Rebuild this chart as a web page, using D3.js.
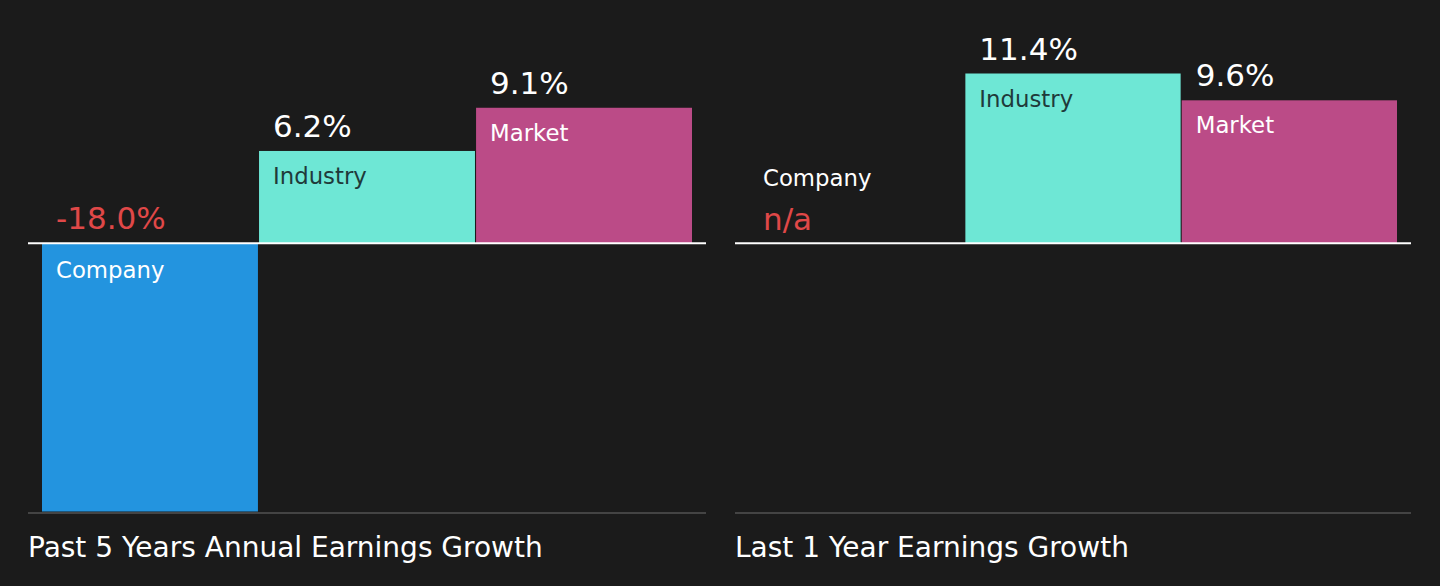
<!DOCTYPE html>
<html lang="en">
<head>
  <meta charset="UTF-8">
  <title>Earnings Growth</title>
  <script src="https://d3js.org/d3.v7.min.js"></script>
  <style>
    html, body { margin: 0; padding: 0; background: #1b1b1b; }
    svg { display: block; font-family: "DejaVu Sans", sans-serif; }
  </style>
</head>
<body>
  <svg width="1440" height="586"></svg>

  <script>
    const width = 1440;
    const height = 586;

    // data
    const categories = ["Company", "Industry", "Market"];
    const pastFiveYears = [-18.0, 6.2, 9.1];
    const lastOneYear = [null, 11.4, 9.6];
    const panelTitles = ["Past 5 Years Annual Earnings Growth", "Last 1 Year Earnings Growth"];

    const colors = { Company: "#2394df", Industry: "#6ee7d5", Market: "#bb4b87" };
    const labelColors = { Company: "#ffffff", Industry: "#1f3a3a", Market: "#ffffff" };
    const negColor = "#e04848";

    const svg = d3.select("svg")
        .attr("width", width)
        .attr("height", height);

    // both panels share one value scale
    const y = d3.scaleLinear()
        .domain([-18, 11.4])
        .range([511.5, 73.5]);

    const panels = [
      { x0: 28, x1: 706, values: pastFiveYears, title: panelTitles[0] },
      { x0: 735, x1: 1411, values: lastOneYear, title: panelTitles[1] }
    ];

    const fmt = v => v.toFixed(1) + "%";

    panels.forEach(p => {
      const g = svg.append("g");

      const x = d3.scaleBand()
          .domain(categories)
          .range([p.x0 + 14, p.x1 - 14])
          .paddingInner(0.005);

      const rows = categories.map((c, i) => ({ cat: c, value: p.values[i] }));

      // bars
      g.selectAll("rect")
          .data(rows.filter(d => d.value != null))
          .enter().append("rect")
          .attr("x", d => x(d.cat))
          .attr("width", x.bandwidth())
          .attr("y", d => y(Math.max(0, d.value)))
          .attr("height", d => Math.abs(y(d.value) - y(0)))
          .attr("fill", d => colors[d.cat]);

      // zero line
      g.append("line")
          .attr("x1", p.x0).attr("x2", p.x1)
          .attr("y1", y(0)).attr("y2", y(0))
          .attr("stroke", "#ffffff")
          .attr("stroke-width", 2);

      // bottom line
      g.append("line")
          .attr("x1", p.x0).attr("x2", p.x1)
          .attr("y1", 513).attr("y2", 513)
          .attr("stroke", "#444444")
          .attr("stroke-width", 2);

      // value labels
      g.selectAll(".value")
          .data(rows)
          .enter().append("text")
          .attr("class", "value")
          .attr("x", d => x(d.cat) + 14)
          .attr("y", d => d.value == null ? y(0) - 13 : y(Math.max(0, d.value)) - 14)
          .attr("font-size", 31)
          .attr("fill", d => (d.value == null || d.value < 0) ? negColor : "#ffffff")
          .text(d => d.value == null ? "n/a" : fmt(d.value));

      // category labels
      g.selectAll(".cat")
          .data(rows)
          .enter().append("text")
          .attr("class", "cat")
          .attr("x", d => x(d.cat) + 14)
          .attr("y", d => {
            if (d.value == null) return y(0) - 57.5;
            if (d.value < 0) return y(0) + 34.5;
            return y(d.value) + 33;
          })
          .attr("font-size", 22.8)
          .attr("fill", d => d.value == null ? "#ffffff" : labelColors[d.cat])
          .text(d => d.cat);

      // panel title
      g.append("text")
          .attr("x", p.x0)
          .attr("y", 557)
          .attr("font-size", 28)
          .attr("fill", "#ffffff")
          .text(p.title);
    });
  </script>
</body>
</html>
